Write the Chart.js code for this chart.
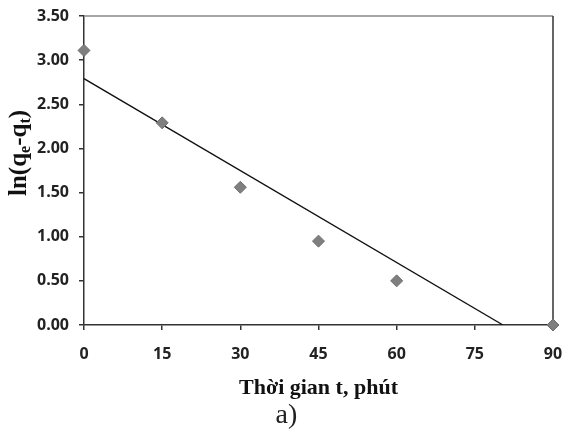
<!DOCTYPE html>
<html lang="vi">
<head>
    <meta charset="UTF-8">
    <title>ln(qe-qt) theo thời gian</title>
    <style>
        html, body { margin: 0; padding: 0; background: #fff; }
        #wrap { width: 563px; height: 442px; }
    </style>
</head>
<body>
    <div id="wrap">
        <canvas id="myChart" width="563" height="442"></canvas>
    </div>

    <script src="https://cdn.jsdelivr.net/npm/chart.js"></script>
    <script>
        // measured points
        var timeMin = [0, 15, 30, 45, 60, 90];
        var lnQ = [3.11, 2.29, 1.56, 0.95, 0.50, 0.00];

        // linear trendline (ends where it hits 0)
        var trendX = [0, 80.4];
        var trendY = [2.79, 0];

        var xTicks = [0, 15, 30, 45, 60, 75, 90];
        var yTicks = [0, 0.5, 1, 1.5, 2, 2.5, 3, 3.5];

        var pts = timeMin.map(function(t, i) { return {x: t, y: lnQ[i]}; });
        var trend = trendX.map(function(t, i) { return {x: t, y: trendY[i]}; });

        // top (grey) and right (dark) edge of the plot box
        var frame = {
            id: 'frame',
            beforeDatasetsDraw: function(chart) {
                var a = chart.chartArea, c = chart.ctx;
                c.save();
                c.lineWidth = 1.5;
                c.strokeStyle = '#8a8a8a';
                c.beginPath();
                c.moveTo(a.left, a.top);
                c.lineTo(a.right, a.top);
                c.stroke();
                c.strokeStyle = '#333';
                c.beginPath();
                c.moveTo(a.right, a.top);
                c.lineTo(a.right, a.bottom);
                c.stroke();
                c.restore();
            }
        };

        // y title with subscripts: ln(q_e-q_t)
        var yTitle = {
            id: 'yTitle',
            afterDraw: function(chart) {
                var c = chart.ctx;
                var parts = [
                    ['ln(q', false], ['e', true], ['-q', false], ['t', true], [')', false]
                ];
                var big = 'bold 25px "Liberation Serif"';
                var small = 'bold 16px "Liberation Serif"';
                c.save();
                var total = 0;
                parts.forEach(function(p) {
                    c.font = p[1] ? small : big;
                    total += c.measureText(p[0]).width;
                });
                c.translate(26, chart.chartArea.top + 137);
                c.rotate(-Math.PI / 2);
                c.fillStyle = '#111';
                c.textBaseline = 'alphabetic';
                var x = -total / 2;
                parts.forEach(function(p) {
                    c.font = p[1] ? small : big;
                    c.fillText(p[0], x, p[1] ? 4 : 0);
                    x += c.measureText(p[0]).width;
                });
                c.restore();
            }
        };

        var tickFont = { family: '"Open Sans"', size: 16, weight: 'bold' };

        var ctx = document.getElementById('myChart');
        var myChart = new Chart(ctx, {
            type: 'scatter',
            data: {
                datasets: [{
                    label: 'ln(qe-qt)',
                    data: pts,
                    pointStyle: 'rectRot',
                    pointRadius: 6,
                    backgroundColor: '#7f7f7f',
                    borderColor: '#6e6e6e',
                    borderWidth: 1,
                    showLine: false,
                    clip: false,
                    order: 1
                }, {
                    label: 'trend',
                    data: trend,
                    showLine: true,
                    pointRadius: 0,
                    borderColor: '#111',
                    borderWidth: 1.3,
                    fill: false,
                    order: 2
                }]
            },
            options: {
                responsive: false,
                animation: false,
                events: [],
                layout: { padding: { top: 16, right: 0, bottom: 12, left: 10 } },
                plugins: {
                    legend: { display: false },
                    tooltip: { enabled: false },
                    title: {
                        display: true,
                        position: 'bottom',
                        text: 'a)',
                        color: '#222',
                        font: { family: '"Liberation Serif"', size: 28, weight: 'normal', lineHeight: 1 },
                        padding: 0
                    }
                },
                scales: {
                    x: {
                        type: 'linear',
                        min: 0,
                        max: 90,
                        afterBuildTicks: function(s) {
                            s.ticks = xTicks.map(function(v) { return {value: v}; });
                        },
                        afterFit: function(s) {
                            s.height = 77;
                            s.paddingLeft = 0;
                            s.paddingRight = 10;
                        },
                        border: { display: true, color: '#333', width: 1.5 },
                        grid: { drawOnChartArea: false, drawTicks: true, tickLength: 5, color: '#333', lineWidth: 1.5 },
                        ticks: {
                            padding: 15,
                            color: '#222',
                            maxRotation: 0,
                            font: tickFont
                        },
                        title: {
                            display: true,
                            text: 'Thời gian t, phút',
                            color: '#111',
                            font: { family: '"Liberation Serif"', size: 22, weight: 'bold', lineHeight: 1 },
                            padding: { top: 0, bottom: 3 }
                        }
                    },
                    y: {
                        min: 0,
                        max: 3.5,
                        afterBuildTicks: function(s) {
                            s.ticks = yTicks.map(function(v) { return {value: v}; });
                        },
                        afterFit: function(s) {
                            s.width = 74;
                            s.paddingTop = 0;
                            s.paddingBottom = 0;
                        },
                        border: { display: true, color: '#333', width: 1.5 },
                        grid: { drawOnChartArea: false, drawTicks: true, tickLength: 5, color: '#333', lineWidth: 1.5 },
                        ticks: {
                            padding: 10,
                            color: '#222',
                            font: tickFont,
                            callback: function(v) { return v.toFixed(2); }
                        }
                    }
                }
            },
            plugins: [frame, yTitle]
        });
    </script>
</body>
</html>
